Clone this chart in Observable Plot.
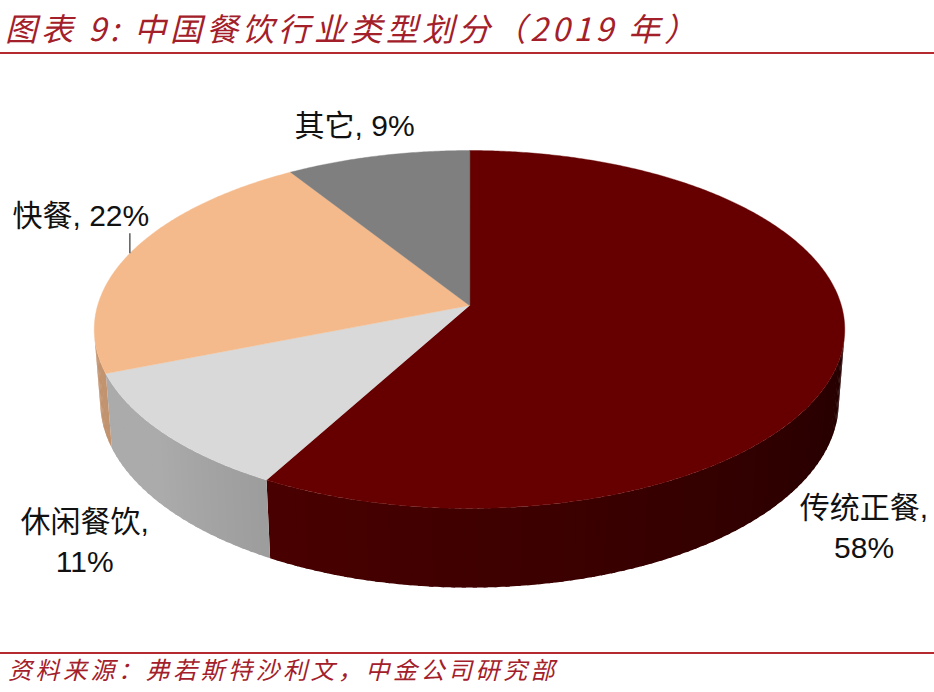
<!DOCTYPE html>
<html><head><meta charset="utf-8">
<script src="https://cdn.jsdelivr.net/npm/d3@7"></script>
<script src="https://cdn.jsdelivr.net/npm/@observablehq/plot@0.6"></script>
<style>
html,body{margin:0;padding:0;background:#fff;width:934px;height:692px;overflow:hidden}
#title{box-sizing:border-box;height:54px;border-bottom:2px solid #b42a2e;padding:11px 0 0 5px;font:italic 32px/32px "Noto Sans CJK SC";letter-spacing:4px;color:#a3202a;white-space:nowrap}
#chart{height:598px}
#chart svg{display:block}
#source{box-sizing:border-box;height:40px;border-top:2px solid #b42a2e;padding:3px 0 0 8px;font:italic 24px/24px "Noto Sans CJK SC";letter-spacing:3.5px;color:#a3202a;white-space:nowrap}
</style></head><body>
<div id="title">图表 9: 中国餐饮行业类型划分（2019 年）</div>
<div id="chart"></div>
<div id="source">资料来源：弗若斯特沙利文，中金公司研究部</div>
<script>
// ---- data ----
const categories = ["传统正餐", "休闲餐饮", "快餐", "其它"];
const shares = [58, 11, 22, 9];
const topColors = ["#660000", "#d9d9d9", "#f5ba8c", "#7f7f7f"];

// ---- view / 3D settings ----
const W = 934, H = 598;
const CX = 469, CY = 251, K = 2447;           // pie centre on screen and focal scale
const DIST = 6.58, ELEV = 28.2 * Math.PI / 180, THICK = 0.223;
const rad = d => d * Math.PI / 180, deg = r => r * 180 / Math.PI;

function project(theta, r, level) {            // theta: degrees clockwise from the far side
  const t = rad(theta);
  const X = r * Math.sin(t), Z = r * Math.cos(t), Y = level;
  const depth = -Y * Math.sin(ELEV) + Z * Math.cos(ELEV) + DIST;
  const up = Y * Math.cos(ELEV) + Z * Math.sin(ELEV);
  return {x: X / depth, y: up / depth};
}

const arcs = d3.pie().sort(null).value(d => d)(shares);
const vis0 = deg(Math.acos(-1 / (DIST * Math.cos(ELEV))));
const vis1 = 360 - vis0;
const shade = th => Math.min(0.79, 0.36 + 0.0033 * (th - 100));

// side walls (front, visible part) split into overlapping shaded strips
const wallPts = [];
arcs.forEach((a, i) => {
  const s = Math.max(deg(a.startAngle), vis0), e = Math.min(deg(a.endAngle), vis1);
  if (e <= s) return;
  const n = Math.ceil((e - s) / 1.5);
  const c = d3.rgb(topColors[i]);
  for (let j = 0; j < n; j++) {
    const t1 = s + (e - s) * j / n;
    const t2 = Math.min(e, s + (e - s) * (j + 1) / n + 0.6);
    const f = shade(s + (e - s) * (j + 0.5) / n);
    const col = d3.rgb(c.r * f, c.g * f, c.b * f).formatHex();
    const id = `w${i}-${j}`;
    const steps = 4;
    for (let k = 0; k <= steps; k++) {
      const p = project(t1 + (t2 - t1) * k / steps, 1, 0);
      wallPts.push({id, col, x: p.x, y: p.y});
    }
    for (let k = steps; k >= 0; k--) {
      const p = project(t1 + (t2 - t1) * k / steps, 1, -THICK);
      wallPts.push({id, col, x: p.x, y: p.y});
    }
  }
});

// top faces
const topPts = [];
arcs.forEach((a, i) => {
  const s = deg(a.startAngle), e = deg(a.endAngle);
  const n = Math.ceil((e - s) / 0.5);
  const id = `t${i}`, col = topColors[i];
  const c0 = project(0, 0, 0);
  topPts.push({id, col, x: c0.x, y: c0.y});
  for (let j = 0; j <= n; j++) {
    const p = project(s + (e - s) * j / n, 1, 0);
    topPts.push({id, col, x: p.x, y: p.y});
  }
});

// labels: anchored on the slice's mid-angle edge, offset in pixels
const labelLayout = [
  {level: -THICK, dx: 28, dy: 101, multiline: true},
  {level: -THICK, dx: -84, dy: 30, multiline: true},
  {level: 0, dx: -49, dy: -37, multiline: false, leader: 20},
  {level: 0, dx: -23, dy: -30, multiline: false}
];
const labelMarks = [];
arcs.forEach((a, i) => {
  const L = labelLayout[i];
  const mid = deg((a.startAngle + a.endAngle) / 2);
  const p = project(mid, 1, L.level);
  const txt = L.multiline ? `${categories[i]},\n${shares[i]}%` : `${categories[i]}, ${shares[i]}%`;
  labelMarks.push(Plot.text([{x: p.x, y: p.y, t: txt}], {
    x: "x", y: "y", text: "t", dx: L.dx, dy: L.dy,
    fontSize: 30, lineHeight: L.multiline ? 1.33 : 1, lineAnchor: "middle",
    fontFamily: '"Liberation Sans", "Noto Sans CJK SC", sans-serif', fill: "#111"
  }));
  if (L.leader) {
    labelMarks.push(Plot.link([{x: p.x, y1: p.y, y2: p.y + L.leader / K}], {
      x1: "x", x2: "x", y1: "y1", y2: "y2", stroke: "#333", strokeWidth: 1.2
    }));
  }
});

const chart = Plot.plot({
  width: W, height: H, margin: 0,
  x: {domain: [-CX / K, (W - CX) / K], axis: null},
  y: {domain: [-(H - CY) / K, CY / K], axis: null},
  color: {type: "identity"},
  marks: [
    Plot.line(wallPts, {x: "x", y: "y", z: "id", fill: "col", stroke: "none", curve: "linear-closed"}),
    Plot.line(topPts, {x: "x", y: "y", z: "id", fill: "col", stroke: "col", strokeWidth: 0.4, curve: "linear-closed"}),
    ...labelMarks
  ]
});
document.getElementById("chart").appendChild(chart);
</script>
</body></html>
